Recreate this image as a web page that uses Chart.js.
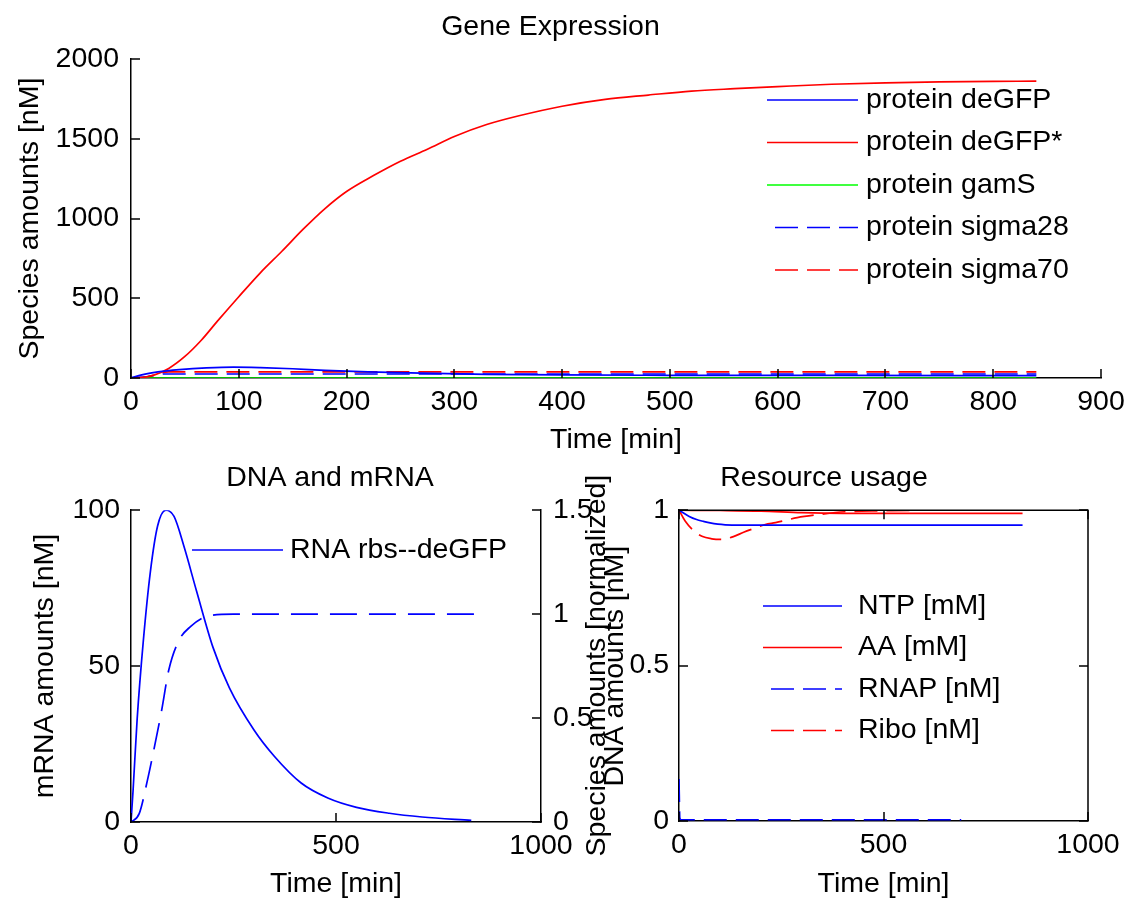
<!DOCTYPE html>
<html>
<head>
<meta charset="utf-8">
<title>Gene Expression</title>
<script src="https://cdn.jsdelivr.net/npm/chart.js@4.4.0/dist/chart.umd.min.js"></script>
<style>
  body { margin: 0; background: #fff; }
  #wrap { position: relative; width: 1126px; height: 906px; }
  canvas { position: absolute; }
</style>
</head>
<body>
<div id="wrap">
  <canvas id="gene" width="1126" height="460" style="left:0;top:0"></canvas>
  <canvas id="dna" width="660" height="446" style="left:0;top:460px"></canvas>
  <canvas id="res" width="566" height="446" style="left:560px;top:460px"></canvas>
</div>
<script>
// --- Gene expression (top panel) ---
let tDeGFPStar = [0, 10, 20, 35, 50, 65, 80, 100, 120, 140, 160, 180, 200, 225, 250, 275, 300, 330, 360, 400, 440, 480, 520, 560, 600, 650, 700, 750, 800, 840];
let deGFPStar = [0, 3, 15, 60, 135, 235, 355, 510, 660, 795, 935, 1063, 1170, 1270, 1360, 1435, 1515, 1590, 1645, 1705, 1748, 1775, 1800, 1815, 1828, 1843, 1852, 1858, 1861, 1862];
let tDeGFP = [0, 10, 25, 45, 70, 95, 120, 150, 180, 220, 270, 330, 400, 500, 650, 840];
let deGFP = [0, 20, 38, 52, 63, 68, 65, 58, 48, 38, 30, 23, 19, 17, 16, 15];
let tGamS = [0, 840];
let gamS = [0, 0];
let tSigma28 = [0, 15, 30, 840];
let sigma28 = [0, 8, 25, 25];
let tSigma70 = [0, 15, 35, 840];
let sigma70 = [0, 8, 38, 38];

// --- DNA and mRNA (bottom left) ---
let tRNA = [0, 5, 15, 30, 47, 65, 85, 105, 130, 160, 200, 240, 300, 350, 415, 480, 550, 630, 710, 830];
let rnaDeGFP = [0, 10, 33, 58, 80, 95, 100, 98, 88, 74, 56, 43, 29.5, 21, 12.5, 7.7, 4.7, 2.8, 1.6, 0.5];
let tDNA = [0, 20, 40, 55, 75, 92, 116, 145, 186, 250, 840];
let dnaNorm = [0, 0.04, 0.2, 0.34, 0.54, 0.73, 0.87, 0.94, 0.99, 1.0, 1.0];

// --- Resource usage (bottom right) ---
let tNTP = [0, 10, 25, 43, 60, 76, 95, 113, 150, 840];
let ntp = [1, 0.992, 0.98, 0.97, 0.964, 0.959, 0.955, 0.953, 0.952, 0.952];
let tAA = [0, 100, 200, 300, 400, 840];
let aa = [1, 0.999, 0.997, 0.992, 0.99, 0.99];
let tRNAP = [0, 2, 5, 690];
let rnap = [0.135, 0.01, 0.004, 0.004];
let tRibo = [0, 15, 35, 56, 80, 105, 133, 158, 185, 211, 236, 289, 342, 405, 500, 600, 840];
let ribo = [1, 0.965, 0.935, 0.916, 0.908, 0.906, 0.915, 0.929, 0.942, 0.954, 0.96, 0.976, 0.986, 0.995, 0.998, 1.0, 1.0];

const FONT = '"Liberation Sans", Arial, sans-serif';
const FSIZE = 28.5;
Chart.defaults.font.family = FONT;
Chart.defaults.font.size = FSIZE;
Chart.defaults.color = '#000';

let toPts = (ts, vs) => ts.map((t, i) => ({x: t, y: vs[i]}));

let line = (label, ts, vs, color, dash, axis) => ({
    label: label,
    data: toPts(ts, vs),
    borderColor: color,
    borderWidth: 1.7,
    borderDash: dash,
    pointRadius: 0,
    cubicInterpolationMode: 'monotone',
    yAxisID: axis || 'y',
});

// matlab style ticks pointing into the axes
let inTicks = {
    id: 'inTicks',
    afterDraw(chart, args, opts) {
        let ctx = chart.ctx, a = chart.chartArea, len = 9;
        ctx.save();
        ctx.strokeStyle = '#000';
        ctx.lineWidth = 1.5;
        Object.values(chart.scales).forEach(s => {
            s.ticks.forEach((tk, i) => {
                let p = Math.round(s.getPixelForTick(i));
                ctx.beginPath();
                if (s.isHorizontal()) {
                    ctx.moveTo(p, a.bottom); ctx.lineTo(p, a.bottom - len);
                    if (opts.box) { ctx.moveTo(p, a.top); ctx.lineTo(p, a.top + len); }
                } else if (s.position === 'left') {
                    ctx.moveTo(a.left, p); ctx.lineTo(a.left + len, p);
                    if (opts.box) { ctx.moveTo(a.right, p); ctx.lineTo(a.right - len, p); }
                } else {
                    ctx.moveTo(a.right, p); ctx.lineTo(a.right - len, p);
                }
                ctx.stroke();
            });
        });
        if (opts.box) {
            ctx.beginPath();
            ctx.moveTo(a.left, a.top); ctx.lineTo(a.right, a.top); ctx.lineTo(a.right, a.bottom);
            ctx.stroke();
        }
        ctx.restore();
    }
};

// boxless legend drawn inside the axes
let lineLegend = {
    id: 'lineLegend',
    afterDraw(chart, args, o) {
        let ctx = chart.ctx;
        ctx.save();
        ctx.font = FSIZE + 'px ' + FONT;
        ctx.textBaseline = 'middle';
        ctx.fillStyle = '#000';
        (o.show || []).forEach((idx, row) => {
            let d = chart.data.datasets[idx];
            let y = o.y + row * o.dy;
            ctx.strokeStyle = d.borderColor;
            ctx.lineWidth = d.borderWidth;
            ctx.setLineDash(d.borderDash || []);
            ctx.beginPath();
            ctx.moveTo(d.borderDash ? o.x1 + 8 : o.x1, y);
            ctx.lineTo(o.x2, y);
            ctx.stroke();
            ctx.fillText(d.label, o.tx, y);
        });
        ctx.restore();
    }
};

// right y label of the dna panel, reading bottom to top like matlab
let sideText = {
    id: 'sideText',
    afterDraw(chart, args, o) {
        if (!o.text) return;
        let ctx = chart.ctx, a = chart.chartArea;
        ctx.save();
        ctx.translate(a.right + o.dx, (a.top + a.bottom) / 2);
        ctx.rotate(-Math.PI / 2);
        ctx.font = FSIZE + 'px ' + FONT;
        ctx.fillStyle = '#000';
        ctx.textAlign = 'center';
        ctx.textBaseline = 'middle';
        ctx.fillText(o.text, 0, 0);
        ctx.restore();
    }
};

let axisBase = {
    type: 'linear',
    grid: { drawOnChartArea: false, drawTicks: false },
    border: { display: true, color: '#000', width: 1.5 },
};

let plain = v => String(v);

let xAxis = (max, step, height, titlePad) => Object.assign({}, axisBase, {
    min: 0, max: max,
    ticks: { stepSize: step, padding: 7, maxRotation: 0, callback: plain },
    title: { display: true, text: 'Time [min]', padding: { top: 0, bottom: titlePad } },
    afterFit: s => { s.height = height; s.paddingLeft = 0; s.paddingRight = 0; },
});

let yAxis = (pos, max, step, width, title, titlePad, tickPad) => Object.assign({}, axisBase, {
    position: pos,
    min: 0, max: max,
    ticks: { stepSize: step, padding: tickPad, callback: plain },
    title: { display: !!title, text: title, padding: { top: titlePad, bottom: 0 } },
    afterFit: s => { s.width = width; },
});

let titleOpts = (text, top, bottom) => ({
    display: true, text: text,
    font: { size: FSIZE, weight: 'normal' },
    padding: { top: top, bottom: bottom },
});

new Chart(document.getElementById('gene'), {
    type: 'line',
    data: {
        datasets: [
            line('protein deGFP', tDeGFP, deGFP, '#0000ff'),
            line('protein deGFP*', tDeGFPStar, deGFPStar, '#ff0000'),
            line('protein gamS', tGamS, gamS, '#00ff00'),
            line('protein sigma28', tSigma28, sigma28, '#0000ff', [23, 9]),
            line('protein sigma70', tSigma70, sigma70, '#ff0000', [23, 9]),
        ],
    },
    options: {
        responsive: false,
        animation: false,
        layout: { padding: { left: 0, right: 25, top: 0, bottom: 0 } },
        scales: {
            x: xAxis(900, 100, 82, 3),
            y: yAxis('left', 2000, 500, 131, 'Species amounts [nM]', 13, 12),
        },
        plugins: {
            legend: { display: false },
            tooltip: { enabled: false },
            title: titleOpts('Gene Expression', 10, 15),
            lineLegend: { show: [0, 1, 2, 3, 4], x1: 767, x2: 858, tx: 866, y: 100, dy: 42.5 },
            inTicks: { box: false },
        },
    },
    plugins: [inTicks, lineLegend],
});

new Chart(document.getElementById('dna'), {
    type: 'line',
    data: {
        datasets: [
            line('RNA rbs--deGFP', tRNA, rnaDeGFP, '#0000ff'),
            line('DNA', tDNA, dnaNorm, '#0000ff', [27, 12], 'y2'),
        ],
    },
    options: {
        responsive: false,
        animation: false,
        layout: { padding: 0 },
        scales: {
            x: xAxis(1000, 500, 84, 5),
            y: yAxis('left', 100, 50, 131, 'mRNA amounts [nM]', 28, 11),
            y2: yAxis('right', 1.5, 0.5, 119, '', 0, 12),
        },
        plugins: {
            legend: { display: false },
            tooltip: { enabled: false },
            title: titleOpts('DNA and mRNA', 1, 15),
            lineLegend: { show: [0], x1: 192, x2: 283, tx: 290, y: 90, dy: 0 },
            sideText: { text: 'DNA amounts [nM]', dx: 74 },
            inTicks: { box: false },
        },
    },
    plugins: [inTicks, lineLegend, sideText],
});

new Chart(document.getElementById('res'), {
    type: 'line',
    data: {
        datasets: [
            line('NTP [mM]', tNTP, ntp, '#0000ff'),
            line('AA [mM]', tAA, aa, '#ff0000'),
            line('RNAP [nM]', tRNAP, rnap, '#0000ff', [23, 9]),
            line('Ribo [nM]', tRibo, ribo, '#ff0000', [23, 9]),
        ],
    },
    options: {
        responsive: false,
        animation: false,
        layout: { padding: { left: 0, right: 38, top: 0, bottom: 0 } },
        scales: {
            x: xAxis(1000, 500, 85, 5),
            y: yAxis('left', 1, 0.5, 119, 'Species amounts [normalized]', 20, 10),
        },
        plugins: {
            legend: { display: false },
            tooltip: { enabled: false },
            title: titleOpts('Resource usage', 1, 15),
            lineLegend: { show: [0, 1, 2, 3], x1: 203, x2: 282, tx: 298, y: 146, dy: 41.5 },
            inTicks: { box: true },
        },
    },
    plugins: [inTicks, lineLegend],
});
</script>
</body>
</html>
